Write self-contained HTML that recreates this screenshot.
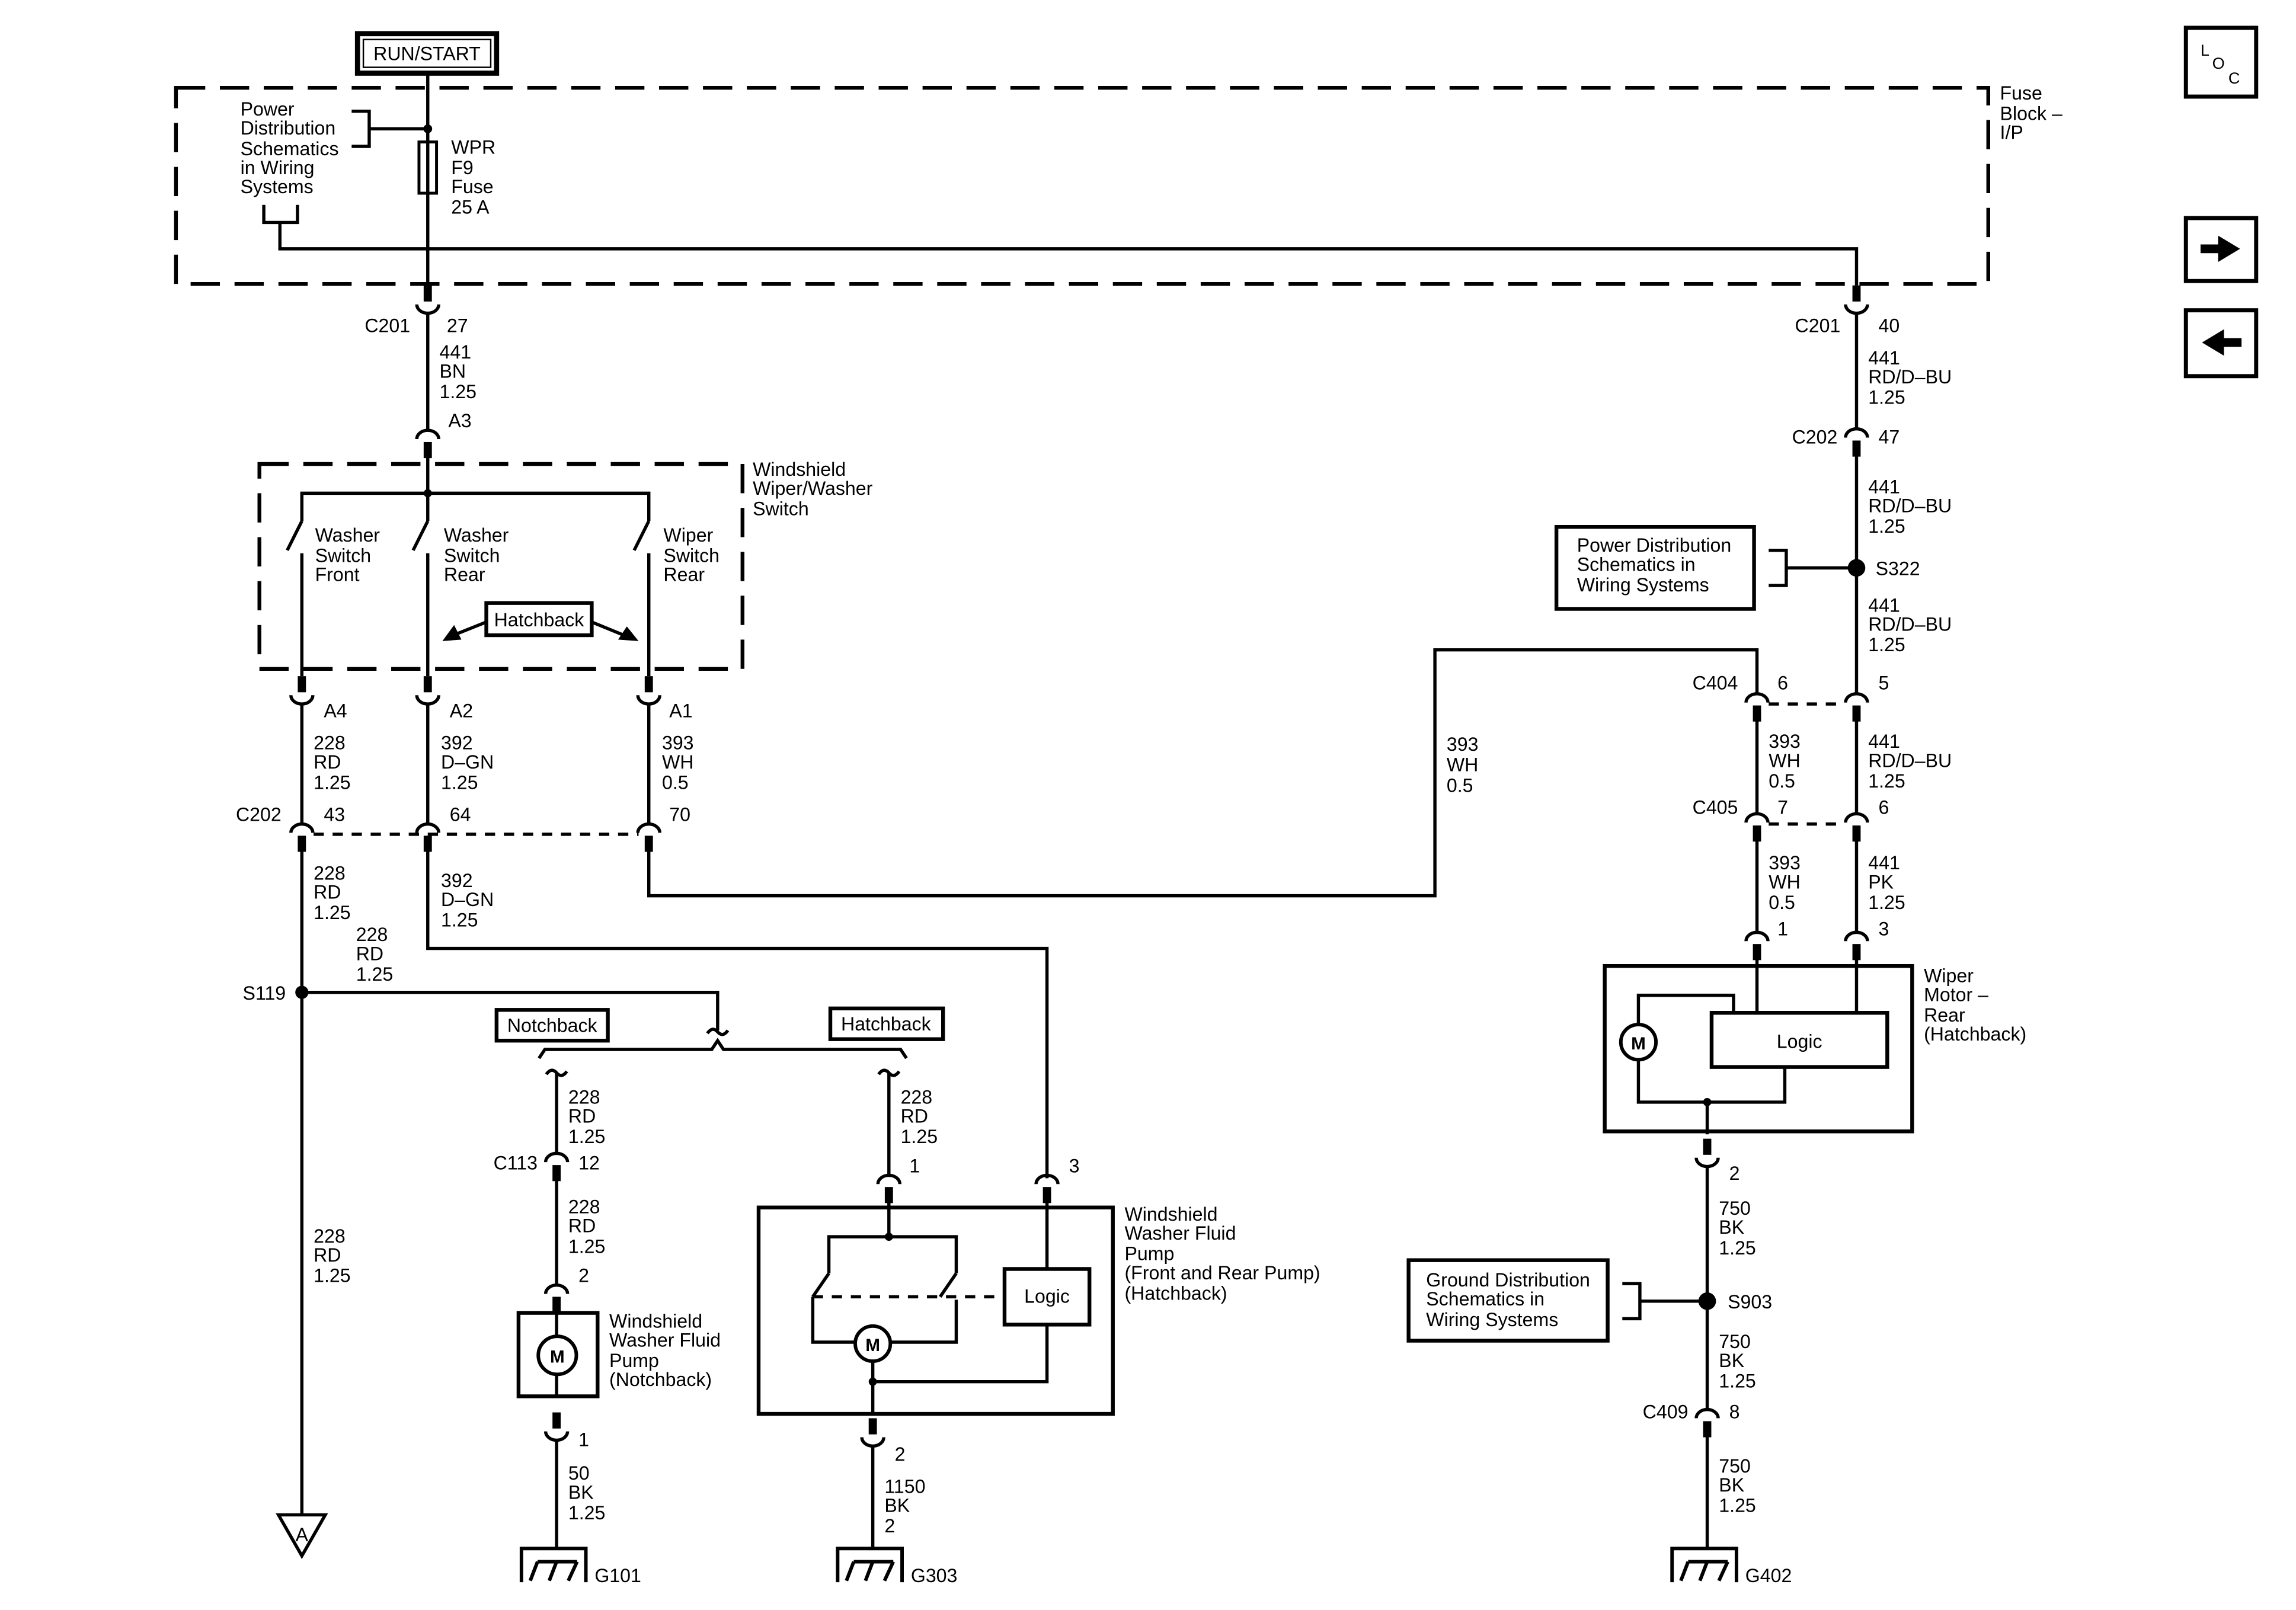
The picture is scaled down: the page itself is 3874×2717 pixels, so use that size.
<!DOCTYPE html>
<html><head><meta charset="utf-8">
<style>
html,body{margin:0;padding:0;background:#fff;}
svg{display:block;}
text{font-family:"Liberation Sans",Arial,sans-serif;font-size:13px;fill:#000;}
.w{stroke:#000;stroke-width:2.2;fill:none;}
.b{stroke:#000;stroke-width:2.6;fill:none;}
.d{stroke:#000;stroke-width:2.6;fill:none;stroke-dasharray:20 10;}
.sd{stroke:#000;stroke-width:2.2;fill:none;stroke-dasharray:7 6;}
.e{text-anchor:end;}
.m{text-anchor:middle;}
</style></head>
<body>
<svg width="3874" height="2717" viewBox="0 0 1568 1100" xmlns="http://www.w3.org/2000/svg">
<defs>
<g id="ca"><path d="M-7.5,6 A7.5,6 0 0 1 7.5,6" fill="none" stroke="#000" stroke-width="2.2"/><rect x="-2.8" y="8" width="5.6" height="11" fill="#000"/></g>
<g id="cu"><path d="M-7.5,-6 A7.5,6 0 0 0 7.5,-6" fill="none" stroke="#000" stroke-width="2.2"/><rect x="-2.8" y="-19" width="5.6" height="11" fill="#000"/></g>
<g id="gnd"><path d="M-24,23 V0 H20 V23" fill="none" stroke="#000" stroke-width="2.4"/><path d="M-13,9 H14 M-13,9 L-18,22 M0,9 L-5,22 M14,9 L8,22" fill="none" stroke="#000" stroke-width="2.4"/></g>
</defs>

<!-- RUN/START -->
<rect x="244" y="23" width="95" height="27" fill="none" stroke="#000" stroke-width="3.5"/>
<rect x="248" y="27" width="87" height="19" fill="none" stroke="#000" stroke-width="1"/>
<text x="291.5" y="41" class="m">RUN/START</text>

<!-- Fuse block -->
<rect x="120" y="60" width="1238" height="134" class="d"/>
<text x="1366" y="68">Fuse</text><text x="1366" y="82">Block –</text><text x="1366" y="95">I/P</text>
<text x="164" y="79">Power</text><text x="164" y="92">Distribution</text><text x="164" y="106">Schematics</text><text x="164" y="119">in Wiring</text><text x="164" y="132">Systems</text>
<path d="M240,76 H252 V100 H240 M252,88 H292" class="w"/>
<circle cx="292" cy="88" r="3"/>
<path d="M292,50 V195" class="w"/>
<rect x="286" y="97" width="12" height="35" fill="#fff" stroke="#000" stroke-width="2"/>
<path d="M292,97 V132" class="w"/>
<text x="308" y="105">WPR</text><text x="308" y="119">F9</text><text x="308" y="132">Fuse</text><text x="308" y="146">25 A</text>
<path d="M180,140 V152 H203 V140 M191,152 V170 H1268 V195" class="w"/>

<!-- left column top -->
<use href="#cu" x="292" y="214"/>
<text x="280" y="227" class="e">C201</text><text x="305" y="227">27</text>
<path d="M292,214 V294" class="w"/>
<text x="300" y="245">441</text><text x="300" y="258">BN</text><text x="300" y="272">1.25</text>
<text x="306" y="292">A3</text>
<use href="#ca" x="292" y="294"/>

<!-- switch box -->
<rect x="177" y="317" width="330" height="140" class="d"/>
<text x="514" y="325">Windshield</text><text x="514" y="338">Wiper/Washer</text><text x="514" y="352">Switch</text>
<path d="M292,312 V337 M206,356 V337 H443 V356 M292,337 V356" class="w"/>
<circle cx="292" cy="337" r="2.8"/>
<path d="M206,356 L196,376 M292,356 L282,376 M443,356 L433,376" class="w"/>
<path d="M206,378 V462 M292,378 V462 M443,378 V462" class="w"/>
<text x="215" y="370">Washer</text><text x="215" y="384">Switch</text><text x="215" y="397">Front</text>
<text x="303" y="370">Washer</text><text x="303" y="384">Switch</text><text x="303" y="397">Rear</text>
<text x="453" y="370">Wiper</text><text x="453" y="384">Switch</text><text x="453" y="397">Rear</text>
<rect x="332" y="412" width="72" height="22" fill="none" stroke="#000" stroke-width="2.6"/>
<text x="368" y="428" class="m">Hatchback</text>
<path d="M332,425 L312,433" class="w"/><path d="M302,438 L310,427 L315,437 Z"/>
<path d="M404,425 L426,434" class="w"/><path d="M436,438 L422,437 L428,428 Z"/>

<use href="#cu" x="206" y="481"/><use href="#cu" x="292" y="481"/><use href="#cu" x="443" y="481"/>
<path d="M206,481 V563 M292,481 V563 M443,481 V563" class="w"/>
<text x="221" y="490">A4</text><text x="307" y="490">A2</text><text x="457" y="490">A1</text>
<text x="214" y="512">228</text><text x="214" y="525">RD</text><text x="214" y="539">1.25</text>
<text x="301" y="512">392</text><text x="301" y="525">D–GN</text><text x="301" y="539">1.25</text>
<text x="452" y="512">393</text><text x="452" y="525">WH</text><text x="452" y="539">0.5</text>
<text x="192" y="561" class="e">C202</text><text x="221" y="561">43</text><text x="307" y="561">64</text><text x="457" y="561">70</text>
<use href="#ca" x="206" y="563"/><use href="#ca" x="292" y="563"/><use href="#ca" x="443" y="563"/>
<path d="M214,570 H436" class="sd"/>

<!-- below C202 -->
<path d="M206,580 V1035" class="w"/>
<circle cx="206" cy="678" r="4.5"/>
<text x="195" y="683" class="e">S119</text>
<text x="214" y="601">228</text><text x="214" y="614">RD</text><text x="214" y="628">1.25</text>
<text x="243" y="643">228</text><text x="243" y="656">RD</text><text x="243" y="670">1.25</text>
<text x="214" y="849">228</text><text x="214" y="862">RD</text><text x="214" y="876">1.25</text>
<path d="M190,1035 H222 L206,1063 Z" fill="#fff" stroke="#000" stroke-width="2.2"/>
<text x="206" y="1053" class="m">A</text>

<path d="M292,580 V648 H715 V805" class="w"/>
<text x="301" y="606">392</text><text x="301" y="619">D–GN</text><text x="301" y="633">1.25</text>
<path d="M443,580 V612 H980 V444 H1200 V474" class="w"/>
<text x="988" y="513">393</text><text x="988" y="527">WH</text><text x="988" y="541">0.5</text>

<!-- option branch -->
<path d="M206,678 H490 V704" class="w"/>
<path d="M483,706 q3.5,-5 7,-1 t7,-1" class="w"/>
<rect x="339" y="690" width="76" height="21" fill="none" stroke="#000" stroke-width="2.6"/>
<text x="377" y="705" class="m">Notchback</text>
<rect x="567" y="689" width="77" height="21" fill="none" stroke="#000" stroke-width="2.6"/>
<text x="605" y="704" class="m">Hatchback</text>
<path d="M368,723 L372,717 H486 L490,711 L494,717 H615 L619,723" class="w"/>
<path d="M373,734 q3.5,-5 7,-1 t7,-1 M600,734 q3.5,-5 7,-1 t7,-1" class="w"/>

<!-- notchback pump -->
<path d="M380,733 V788" class="w"/>
<text x="388" y="754">228</text><text x="388" y="767">RD</text><text x="388" y="781">1.25</text>
<text x="367" y="799" class="e">C113</text><text x="395" y="799">12</text>
<use href="#ca" x="380" y="788"/>
<path d="M380,805 V878" class="w"/>
<text x="388" y="829">228</text><text x="388" y="842">RD</text><text x="388" y="856">1.25</text>
<text x="395" y="876">2</text>
<use href="#ca" x="380" y="878"/>
<rect x="354" y="897" width="54" height="57" class="b"/>
<path d="M380,897 V954" class="w"/>
<circle cx="380.5" cy="926" r="13" fill="#fff" stroke="#000" stroke-width="2.4"/>
<text x="380.5" y="931" class="m" style="font-weight:bold;font-size:12px">M</text>
<text x="416" y="907">Windshield</text><text x="416" y="920">Washer Fluid</text><text x="416" y="934">Pump</text><text x="416" y="947">(Notchback)</text>
<use href="#cu" x="380" y="984"/>
<path d="M380,984 V1058" class="w"/>
<text x="395" y="988">1</text>
<text x="388" y="1011">50</text><text x="388" y="1024">BK</text><text x="388" y="1038">1.25</text>
<use href="#gnd" x="380" y="1058"/>
<text x="406" y="1081">G101</text>

<!-- hatchback pump -->
<path d="M607,733 V803" class="w"/>
<text x="615" y="754">228</text><text x="615" y="767">RD</text><text x="615" y="781">1.25</text>
<text x="621" y="801">1</text><text x="730" y="801">3</text>
<use href="#ca" x="607" y="803"/><use href="#ca" x="715" y="803"/>
<rect x="518" y="825" width="242" height="141" class="b"/>
<text x="768" y="834">Windshield</text><text x="768" y="847">Washer Fluid</text><text x="768" y="861">Pump</text><text x="768" y="874">(Front and Rear Pump)</text><text x="768" y="888">(Hatchback)</text>
<path d="M607,820 V845 M566,870 V845 H653 V870" class="w"/>
<circle cx="607" cy="845" r="2.8"/>
<path d="M566,870 L555,886 M653,870 L642,886" class="w"/>
<path d="M555,886 H686" class="sd"/>
<path d="M555,886 V917 H584 M608,917 H653 V888" class="w"/>
<circle cx="596" cy="918" r="12" fill="#fff" stroke="#000" stroke-width="2.4"/>
<text x="596" y="923" class="m" style="font-weight:bold;font-size:12px">M</text>
<rect x="686" y="867" width="58" height="38" class="b"/>
<text x="715" y="890" class="m">Logic</text>
<path d="M715,820 V867 M715,905 V944 H596 M596,930 V966" class="w"/>
<circle cx="596" cy="944" r="2.8"/>
<use href="#cu" x="596" y="988"/>
<path d="M596,988 V1058" class="w"/>
<text x="611" y="998">2</text>
<text x="604" y="1020">1150</text><text x="604" y="1033">BK</text><text x="604" y="1047">2</text>
<use href="#gnd" x="596" y="1058"/>
<text x="622" y="1081">G303</text>

<!-- right column -->
<use href="#cu" x="1268" y="214"/>
<text x="1257" y="227" class="e">C201</text><text x="1283" y="227">40</text>
<path d="M1268,214 V293" class="w"/>
<text x="1276" y="249">441</text><text x="1276" y="262">RD/D–BU</text><text x="1276" y="276">1.25</text>
<text x="1255" y="303" class="e">C202</text><text x="1283" y="303">47</text>
<use href="#ca" x="1268" y="293"/>
<path d="M1268,310 V474" class="w"/>
<text x="1276" y="337">441</text><text x="1276" y="350">RD/D–BU</text><text x="1276" y="364">1.25</text>
<circle cx="1268" cy="388" r="6"/>
<text x="1281" y="393">S322</text>
<path d="M1208,376 H1220 V400 H1208 M1220,388 H1268" class="w"/>
<rect x="1063" y="360" width="135" height="56" class="b"/>
<text x="1077" y="377">Power Distribution</text><text x="1077" y="390">Schematics in</text><text x="1077" y="404">Wiring Systems</text>
<text x="1276" y="418">441</text><text x="1276" y="431">RD/D–BU</text><text x="1276" y="445">1.25</text>
<text x="1187" y="471" class="e">C404</text><text x="1214" y="471">6</text><text x="1283" y="471">5</text>
<use href="#ca" x="1200" y="474"/><use href="#ca" x="1268" y="474"/>
<path d="M1208,481 H1260" class="sd"/>
<path d="M1200,490 V556 M1268,490 V556" class="w"/>
<text x="1208" y="511">393</text><text x="1208" y="524">WH</text><text x="1208" y="538">0.5</text>
<text x="1276" y="511">441</text><text x="1276" y="524">RD/D–BU</text><text x="1276" y="538">1.25</text>
<text x="1187" y="556" class="e">C405</text><text x="1214" y="556">7</text><text x="1283" y="556">6</text>
<use href="#ca" x="1200" y="556"/><use href="#ca" x="1268" y="556"/>
<path d="M1208,563 H1260" class="sd"/>
<path d="M1200,572 V637 M1268,572 V637" class="w"/>
<text x="1208" y="594">393</text><text x="1208" y="607">WH</text><text x="1208" y="621">0.5</text>
<text x="1276" y="594">441</text><text x="1276" y="607">PK</text><text x="1276" y="621">1.25</text>
<text x="1214" y="639">1</text><text x="1283" y="639">3</text>
<use href="#ca" x="1200" y="637"/><use href="#ca" x="1268" y="637"/>

<rect x="1096" y="660" width="210" height="113" class="b"/>
<text x="1314" y="671">Wiper</text><text x="1314" y="684">Motor –</text><text x="1314" y="698">Rear</text><text x="1314" y="711">(Hatchback)</text>
<path d="M1200,654 V692 M1268,654 V692" class="w"/>
<rect x="1169" y="692" width="120" height="37" class="b"/>
<text x="1229" y="716" class="m">Logic</text>
<path d="M1119,700 V680 H1184 V692 M1119,724 V753 H1219 V729 M1166,753 V775" class="w"/>
<circle cx="1119" cy="712" r="12" fill="#fff" stroke="#000" stroke-width="2.4"/>
<text x="1119" y="717" class="m" style="font-weight:bold;font-size:12px">M</text>
<circle cx="1166" cy="753" r="2.8"/>
<use href="#cu" x="1166" y="797"/>
<text x="1181" y="806">2</text>
<path d="M1166,797 V963" class="w"/>
<text x="1174" y="830">750</text><text x="1174" y="843">BK</text><text x="1174" y="857">1.25</text>
<circle cx="1166" cy="889" r="6"/>
<text x="1180" y="894">S903</text>
<path d="M1108,877 H1120 V901 H1108 M1120,889 H1166" class="w"/>
<rect x="962" y="861" width="136" height="55" class="b"/>
<text x="974" y="879">Ground Distribution</text><text x="974" y="892">Schematics in</text><text x="974" y="906">Wiring Systems</text>
<text x="1174" y="921">750</text><text x="1174" y="934">BK</text><text x="1174" y="948">1.25</text>
<text x="1153" y="969" class="e">C409</text><text x="1181" y="969">8</text>
<use href="#ca" x="1166" y="963"/>
<path d="M1166,980 V1058" class="w"/>
<text x="1174" y="1006">750</text><text x="1174" y="1019">BK</text><text x="1174" y="1033">1.25</text>
<use href="#gnd" x="1166" y="1058"/>
<text x="1192" y="1081">G402</text>

<!-- nav icons -->
<rect x="1493" y="19" width="48" height="47" fill="none" stroke="#000" stroke-width="2.8"/>
<text x="1503" y="38" style="font-size:11px">L</text><text x="1511" y="47" style="font-size:11px">O</text><text x="1522" y="57" style="font-size:11px">C</text>
<rect x="1493" y="149" width="48" height="43" fill="none" stroke="#000" stroke-width="2.8"/>
<path d="M1503,167 H1515 V161 L1530,170 L1515,179 V173 H1503 Z"/>
<rect x="1493" y="212" width="48" height="45" fill="none" stroke="#000" stroke-width="2.8"/>
<path d="M1531,231 H1519 V225 L1504,234 L1519,243 V237 H1531 Z"/>
</svg>
</body></html>
